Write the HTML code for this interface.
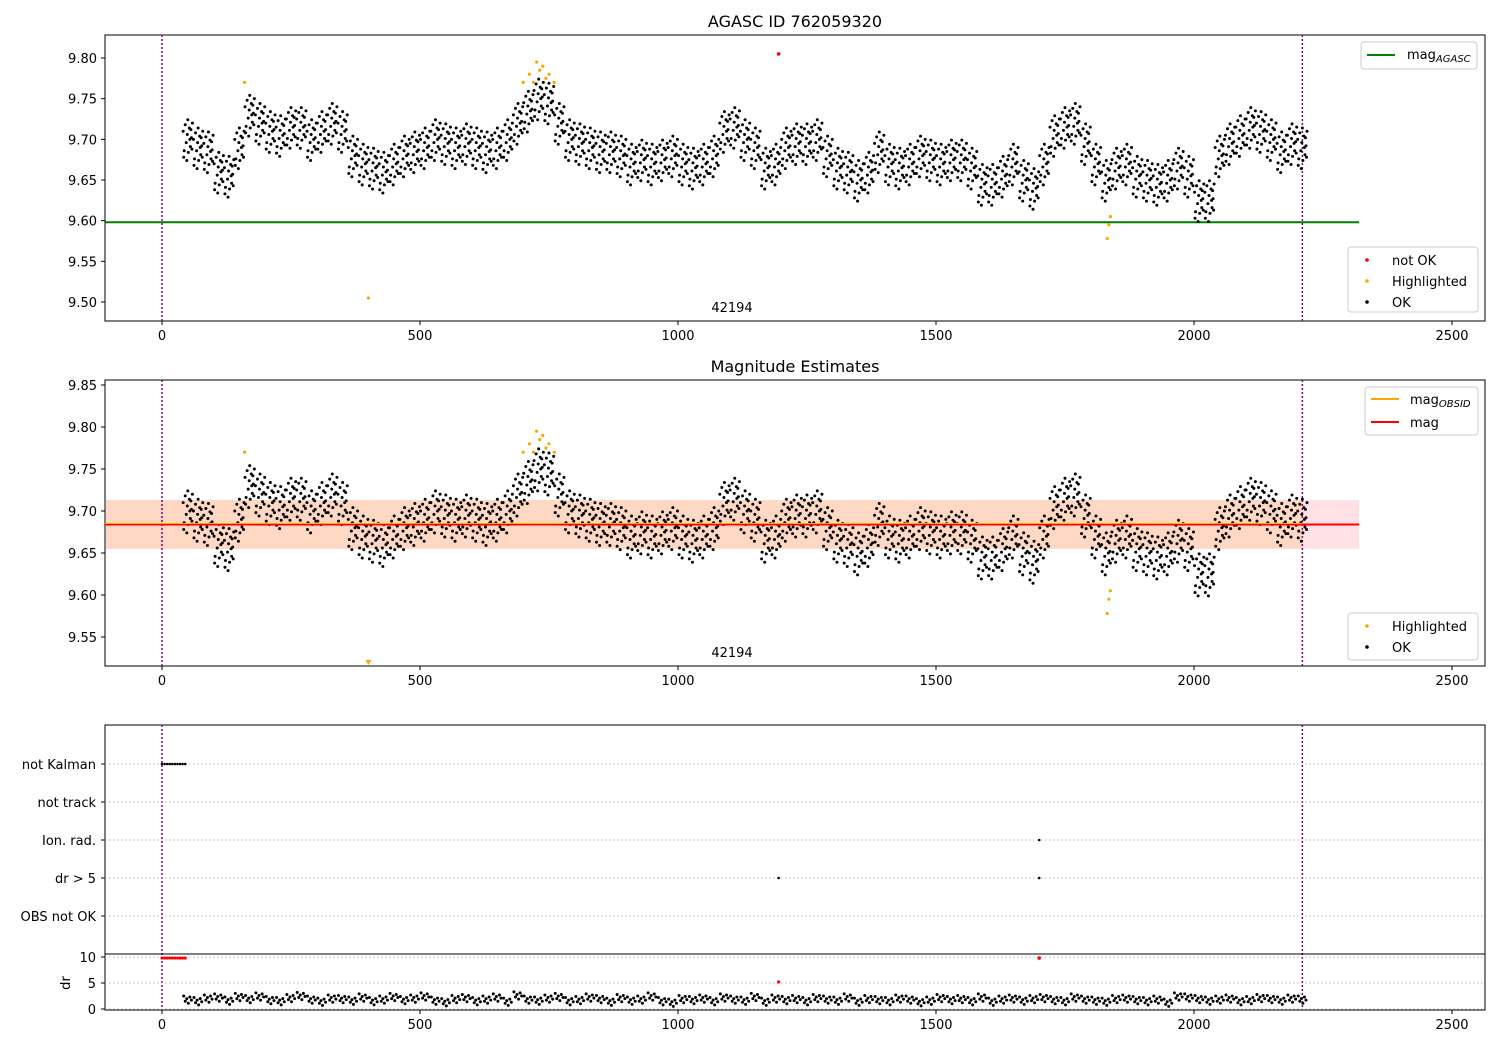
<!DOCTYPE html>
<html><head><meta charset="utf-8">
<style>
body{margin:0;background:#fff;}
svg{display:block;font-family:"DejaVu Sans","Liberation Sans",sans-serif;}
</style></head>
<body>
<svg id="chart" width="1500" height="1050" xmlns="http://www.w3.org/2000/svg"></svg>
<script>
// ---- data ----
const times = [50,70,90,110,130,150,170,190,210,230,250,270,290,310,330,350,370,390,410,430,450,470,490,510,530,550,570,590,610,630,650,670,690,710,730,750,770,790,810,830,850,870,890,910,930,950,970,990,1010,1030,1050,1070,1090,1110,1130,1150,1170,1190,1210,1230,1250,1270,1290,1310,1330,1350,1370,1390,1410,1430,1450,1470,1490,1510,1530,1550,1570,1590,1610,1630,1650,1670,1690,1710,1730,1750,1770,1790,1810,1830,1850,1870,1890,1910,1930,1950,1970,1990,2010,2030,2050,2070,2090,2110,2130,2150,2170,2190,2210];
const mags = [9.70,9.69,9.685,9.66,9.655,9.69,9.73,9.72,9.71,9.705,9.715,9.715,9.70,9.71,9.72,9.71,9.68,9.67,9.665,9.66,9.67,9.68,9.685,9.69,9.70,9.695,9.69,9.695,9.69,9.685,9.69,9.70,9.72,9.735,9.75,9.745,9.72,9.70,9.695,9.69,9.685,9.685,9.68,9.67,9.675,9.67,9.675,9.68,9.67,9.665,9.67,9.68,9.71,9.715,9.70,9.69,9.665,9.67,9.69,9.695,9.695,9.70,9.68,9.665,9.66,9.65,9.66,9.685,9.67,9.665,9.67,9.68,9.675,9.67,9.675,9.675,9.665,9.645,9.645,9.655,9.67,9.65,9.64,9.67,9.705,9.715,9.72,9.695,9.67,9.65,9.665,9.67,9.655,9.65,9.645,9.65,9.665,9.655,9.625,9.625,9.68,9.695,9.705,9.715,9.71,9.70,9.685,9.695,9.69];
const drVals = [1.8,1.5,2.0,2.2,1.6,2.3,1.9,2.4,1.7,1.5,2.1,2.5,1.8,1.4,2.0,1.9,1.6,2.2,1.5,1.8,2.3,1.7,2.0,2.4,1.6,1.3,1.9,2.1,1.5,1.8,2.2,1.4,2.6,1.8,1.6,2.0,2.3,1.5,1.7,2.2,1.9,1.4,2.1,1.6,1.8,2.4,1.5,1.2,1.9,1.7,2.0,1.5,2.2,1.8,1.6,2.3,1.4,2.0,1.7,1.9,1.5,2.1,1.8,1.6,2.2,1.4,1.9,1.7,1.5,2.0,1.8,1.3,1.6,2.1,1.7,1.9,1.5,2.2,1.4,1.8,2.0,1.6,1.9,2.1,1.7,1.5,2.2,1.8,1.6,1.4,1.9,2.0,1.7,1.5,1.8,1.2,2.4,2.2,1.9,1.6,1.8,2.0,1.5,1.7,2.1,1.9,1.6,2.0,1.8];
const hiT = [160,700,712,720,726,732,738,744,750,760,1832,1835,1838];
const hiM = [9.77,9.77,9.78,9.77,9.795,9.785,9.79,9.775,9.78,9.77,9.578,9.595,9.605];
const lowOutT = [400];
const lowOutM = [9.505];
const notOkT = [1195];
const notOkM = [9.805];
const agascMag = 9.598;
const obsMag = 9.684, bandLo = 9.655, bandHi = 9.713;
const kalmanT = [0,5,10,15,20,25,30,35,40,45];
const ionT = [1700];
const drBigT = [1195,1700];
const xTicks = [0,500,1000,1500,2000,2500];
const y1Ticks = [9.50,9.55,9.60,9.65,9.70,9.75,9.80];
const y2Ticks = [9.55,9.60,9.65,9.70,9.75,9.80,9.85];
const flagCats = ["not Kalman","not track","Ion. rad.","dr > 5","OBS not OK"];
const drTicks = [0,5,10];
// ---- helpers ----
const svg = document.getElementById('chart');
const NS = 'http://www.w3.org/2000/svg';
function mk(tag, attrs, parent){const e=document.createElementNS(NS,tag);for(const k in attrs)e.setAttribute(k,attrs[k]);(parent||svg).appendChild(e);return e;}
const X0=105,X1=1485;
const xs = t => 162 + t*0.516;
const y1 = m => 58 + (9.80-m)*813.3;
const y2 = m => 385 + (9.85-m)*840;
const yd = d => 1009 - d*5.2;
const spread = [[-9,0.010],[-7,-0.014],[-5,0.018],[-3,-0.004],[-1,0.006],[1,-0.016],[3,0.014],[5,-0.009],[7,0.002],[9,0.020],[-8,-0.022],[0,0.024],[4,0.0],[8,-0.012],[-2,-0.026],[6,0.012]];
function axesFrame(top,bot,name){
  const r=mk('rect',{x:X0,y:top,width:X1-X0,height:bot-top,fill:'none',stroke:'#000','stroke-width':1});
  
  xTicks.forEach(t=>{const x=xs(t);mk('line',{x1:x,x2:x,y1:bot,y2:bot+4,stroke:'#000'});
    const tx=mk('text',{x:x,y:bot+19,'font-size':13,'text-anchor':'middle'});tx.textContent=t;
    });
  [0,2210].forEach(t=>mk('line',{x1:xs(t),x2:xs(t),y1:top,y2:bot,stroke:'#800080','stroke-width':1.5,'stroke-dasharray':'2,2'}));
}
function yTicks(ticks,fy,name){ticks.forEach(v=>{const y=fy(v);mk('line',{x1:X0-4,x2:X0,y1:y,y2:y,stroke:'#000'});
  const tx=mk('text',{x:X0-8,y:y+5,'font-size':13,'text-anchor':'end'});tx.textContent=v.toFixed(2);
  });}
function dots(fy,clipTop,clipBot,g){
  times.forEach((t,i)=>spread.forEach(s=>{const y=fy(mags[i]+s[1]);if(y<clipTop||y>clipBot)return;
    mk('circle',{cx:xs(t+s[0]),cy:y,r:1.5,fill:'#000'},g);}));
}
function label(x,y,txt,size,anchor,name){const t=mk('text',{x:x,y:y,'font-size':size,'text-anchor':anchor||'middle'});t.textContent=txt;return t;}
function legendBox(x,y,w,h,name){const r=mk('rect',{x:x,y:y,width:w,height:h,rx:3,fill:'#fff',stroke:'#ccc','fill-opacity':0.8});}
// ---- panel 1 ----
label(795,27,'AGASC ID 762059320',16,'middle','panel1-title');
axesFrame(35,321,'panel1-axes');
yTicks(y1Ticks,y1,'y1-tick-label');
const l1=mk('line',{x1:xs(-110),x2:xs(2320),y1:y1(agascMag),y2:y1(agascMag),stroke:'#008000','stroke-width':2});

const g1=mk('g',{});
dots(y1,36,320,g1);
hiT.forEach((t,i)=>mk('circle',{cx:xs(t),cy:y1(hiM[i]),r:1.6,fill:'orange'}));
lowOutT.forEach((t,i)=>mk('circle',{cx:xs(t),cy:y1(lowOutM[i]),r:1.6,fill:'orange'}));
notOkT.forEach((t,i)=>mk('circle',{cx:xs(t),cy:y1(notOkM[i]),r:1.8,fill:'red'}));
label(732,312,'42194',13,'middle','obsid-label');
legendBox(1361,42,116,27,'legend-agasc');
mk('line',{x1:1367,x2:1395,y1:55,y2:55,stroke:'#008000','stroke-width':2});
const la=label(1407,59,'mag',13,'start','legend-mag-agasc');const sb=mk('tspan',{'font-size':10,'font-style':'italic',dy:3},la);sb.textContent='AGASC';
legendBox(1348,247,130,65,'legend-points-1');
[['red','not OK',260],['orange','Highlighted',281],['#000','OK',302]].forEach(a=>{mk('circle',{cx:1367,cy:a[2],r:1.8,fill:a[0]});label(1392,a[2]+5,a[1],13,'start','legend-entry');});
// ---- panel 2 ----
label(795,372,'Magnitude Estimates',16,'middle','panel2-title');
const band=mk('rect',{x:X0+1,y:y2(bandHi),width:xs(2320)-X0-1,height:y2(bandLo)-y2(bandHi),fill:'#ffe0e4'});

mk('rect',{x:X0+1,y:y2(bandHi),width:xs(2210)-X0-1,height:y2(bandLo)-y2(bandHi),fill:'#ffd8c4'});
axesFrame(380,666,'panel2-axes');
yTicks(y2Ticks,y2,'y2-tick-label');
const g2=mk('g',{});
dots(y2,381,665,g2);
mk('line',{x1:X0,x2:xs(2320),y1:y2(obsMag),y2:y2(obsMag),stroke:'red','stroke-width':2});
mk('line',{x1:X0,x2:xs(2210),y1:y2(obsMag)-1,y2:y2(obsMag)-1,stroke:'orange','stroke-width':1});
hiT.forEach((t,i)=>mk('circle',{cx:xs(t),cy:y2(hiM[i]),r:1.6,fill:'orange'}));
lowOutT.forEach(t=>mk('path',{d:`M${xs(t)-3},660 L${xs(t)+3},660 L${xs(t)},665 Z`,fill:'orange'}));
label(732,657,'42194',13,'middle','obsid-label-2');
legendBox(1365,387,113,48,'legend-mag');
mk('line',{x1:1371,x2:1399,y1:399,y2:399,stroke:'orange','stroke-width':2});
const lo=label(1410,404,'mag',13,'start','legend-mag-obsid');const so=mk('tspan',{'font-size':10,'font-style':'italic',dy:3},lo);so.textContent='OBSID';
mk('line',{x1:1371,x2:1399,y1:422,y2:422,stroke:'red','stroke-width':2});
label(1410,427,'mag',13,'start','legend-mag-entry');
legendBox(1348,613,130,47,'legend-points-2');
[['orange','Highlighted',626],['#000','OK',647]].forEach(a=>{mk('circle',{cx:1367,cy:a[2],r:1.8,fill:a[0]});label(1392,a[2]+5,a[1],13,'start','legend-entry');});
// ---- panel 3 ----
axesFrame(725,1010,'panel3-axes');
mk('line',{x1:X0,x2:X1,y1:954,y2:954,stroke:'#000'});
const catY=[764,802,840,878,916];
flagCats.forEach((c,i)=>{mk('line',{x1:X0,x2:X1,y1:catY[i],y2:catY[i],stroke:'#bbb','stroke-dasharray':'1.5,2.5'});
  mk('line',{x1:X0-4,x2:X0,y1:catY[i],y2:catY[i],stroke:'#000'});
  label(X0-9,catY[i]+5,c,13,'end','flag-label');});
drTicks.forEach(d=>{mk('line',{x1:X0,x2:X1,y1:yd(d),y2:yd(d),stroke:'#bbb','stroke-dasharray':'1.5,2.5'});
  mk('line',{x1:X0-4,x2:X0,y1:yd(d),y2:yd(d),stroke:'#000'});label(X0-9,yd(d)+5,d,13,'end','dr-tick-label');});
const yl=label(70,983,'dr',13,'middle','dr-axis-title');yl.setAttribute('transform','rotate(-90 70 983)');
kalmanT.forEach(t=>{mk('circle',{cx:xs(t),cy:764,r:1.3,fill:'#000'});mk('circle',{cx:xs(t),cy:yd(9.8),r:1.6,fill:'red'});});
ionT.forEach(t=>mk('circle',{cx:xs(t),cy:840,r:1.3,fill:'#000'}));
drBigT.forEach(t=>mk('circle',{cx:xs(t),cy:878,r:1.3,fill:'#000'}));
mk('circle',{cx:xs(1700),cy:yd(9.8),r:1.8,fill:'red'});
mk('circle',{cx:xs(1195),cy:yd(5.2),r:1.6,fill:'red'});
const g3=mk('g',{});
times.forEach((t,i)=>[-8,-5,-2,1,4,7].forEach((o,k)=>{const d=drVals[i]+[0.7,-0.3,0.2,-0.7,0.5,-0.1][k];mk('circle',{cx:xs(t+o),cy:yd(Math.max(0.2,d)),r:1.5,fill:'#000'},g3);}));
</script>
</body></html>
